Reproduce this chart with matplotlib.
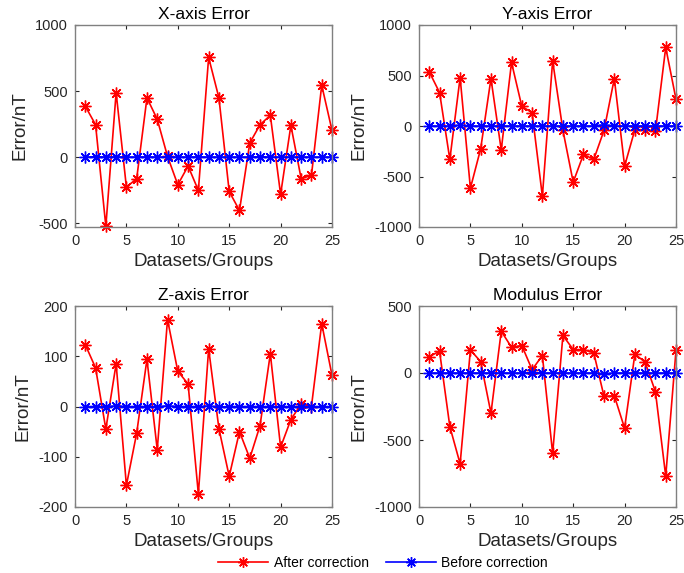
import numpy as np
import matplotlib
matplotlib.use("Agg")
import matplotlib.pyplot as plt

plt.rcParams["font.family"] = ["Liberation Sans", "DejaVu Sans"]
plt.rcParams["axes.unicode_minus"] = False

groups = np.arange(1, 26)

x_after = [385, 245, -525, 488, -228, -164, 448, 286, 5, -210, -68, -253, 754,
           448, -261, -405, 106, 245, 316, -283, 240, -164, -139, 544, 202]
x_before = [0, 2, 0, 1, 0, 0, 1, 0, 0, 0, 0, 1, 0, 0, 0, 0, 0, 2, 0, 0, 0, 0, 0, 0, 0]

y_after = [536, 331, -331, 480, -616, -225, 470, -238, 629, 195, 132, -695, 645,
           -43, -556, -281, -331, -43, 470, -397, -36, -36, -53, 778, 265]
y_before = [0, 0, 0, 8, 0, 0, 0, 0, 0, 0, 0, 0, 0, 0, 0, 0, 0, 12, 0, 0, 0, 0, 0, 0, 0]

z_after = [123, 77, -45, 85, -157, -53, 94, -86, 173, 70, 45, -174, 115,
           -44, -139, -50, -103, -38, 105, -81, -26, 5, 0, 165, 62]
z_before = [0, 0, 0, 1, 0, 0, 0, 0, 1, 0, 0, 0, 1, -1, 0, 0, 0, 0, 0, 0, 0, 0, 0, 0, 0]

m_after = [122, 162, -400, -678, 172, 85, -300, 312, 192, 205, 25, 130, -600,
           280, 175, 175, 150, -175, -170, -412, 142, 80, -140, -770, 168]
m_before = [0, 0, 0, 0, 0, 0, 0, 0, 0, 0, 3, 0, 0, 0, 0, 0, 0, -5, 0, 0, 0, 0, 0, 0, 0]

titles = ["X-axis Error", "Y-axis Error", "Z-axis Error", "Modulus Error"]
after = [x_after, y_after, z_after, m_after]
before = [x_before, y_before, z_before, m_before]
ylims = [(-530, 1000), (-1000, 1000), (-200, 200), (-1000, 500)]
yticks = [[-500, 0, 500, 1000], [-1000, -500, 0, 500, 1000],
          [-200, -100, 0, 100, 200], [-1000, -500, 0, 500]]

# axes positions in pixels: left, right, top, bottom
W, H = 684, 573
boxes = [(75, 332, 25, 227), (419, 676, 25, 227),
         (75, 332, 306, 507), (419, 676, 306, 507)]

fig = plt.figure(figsize=(6.84, 5.73), dpi=100)
frame_col = "#262626"
star = (8, 2, 0)  # matlab-like asterisk

for i in range(4):
    l, r, t, b = boxes[i]
    ax = fig.add_axes([l / W, 1 - b / H, (r - l) / W, (b - t) / H])
    la, = ax.plot(groups, after[i], color="red", marker=star, markersize=8.5,
                  markeredgewidth=1.0, linewidth=1.2, label="After correction",
                  clip_on=False)
    lb, = ax.plot(groups, before[i], color="blue", marker=star, markersize=8.5,
                  markeredgewidth=1.0, linewidth=1.2, label="Before correction",
                  clip_on=False)
    ax.set_xlim(0, 25)
    ax.set_ylim(*ylims[i])
    ax.set_xticks([0, 5, 10, 15, 20, 25])
    ax.set_yticks(yticks[i])
    ax.tick_params(direction="in", labelsize=10.5, colors=frame_col, pad=5,
                   length=3, top=True, right=True, labeltop=False, labelright=False)
    for s in ax.spines.values():
        s.set_color("#808080")
        s.set_linewidth(1.0)
    ax.set_title(titles[i], fontsize=12.5, pad=4, color="black")
    ax.set_xlabel("Datasets/Groups", fontsize=13.5, labelpad=4, color=frame_col)
    ax.set_ylabel("Error/nT", fontsize=13.5, labelpad=5, color=frame_col)

fig.legend(handles=[la, lb], loc="center", bbox_to_anchor=(383 / W, 1 - 563 / H),
           ncol=2, frameon=False, fontsize=10, handlelength=3.6,
           columnspacing=1.2, handletextpad=0.4, markerscale=0.9)

fig.savefig("out.png", dpi=100)
